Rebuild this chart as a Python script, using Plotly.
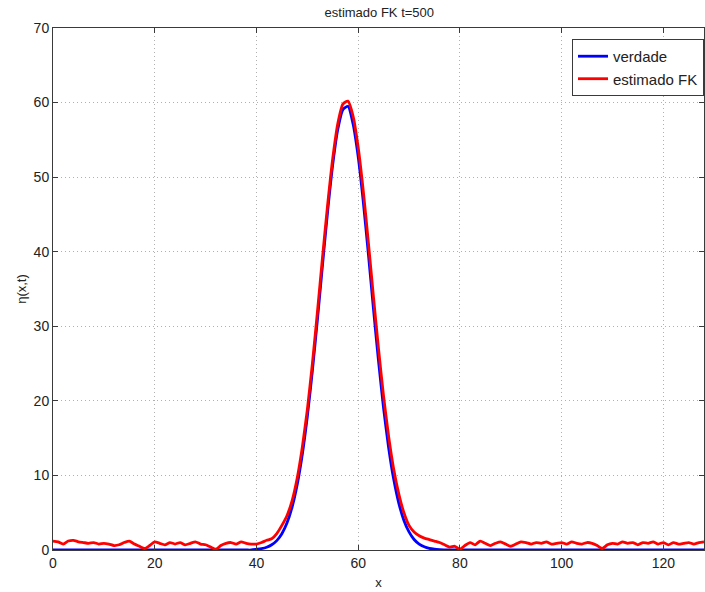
import plotly.graph_objects as go

# spatial grid points 0..128
x_vals = list(range(0, 129))

# true surface elevation ("verdade")
eta_true = [0.0] * 40 + [
    0.09, 0.19, 0.37, 0.70, 1.26, 2.18, 3.61, 5.73, 8.72, 12.74,      # 40-49
    17.87, 24.02, 30.97, 38.27, 45.42, 51.68, 56.41, 59.05, 59.50, 57.12,  # 50-59
    52.77, 46.77, 39.76, 32.40, 25.35, 19.01, 13.68, 9.44, 6.25, 3.97,  # 60-69
    2.42, 1.41, 0.79, 0.43, 0.22, 0.11, 0.05, 0.02,                     # 70-77
] + [0.0] * 51

# Kalman filter estimate ("estimado FK")
eta_kf = [
    1.2, 1.1, 0.8, 1.2, 1.3, 1.1, 1.0, 0.9, 1.0, 0.8,   # 0-9
    0.9, 0.8, 0.6, 0.7, 1.0, 1.2, 0.8, 0.5, 0.2, 0.6,   # 10-19
    1.1, 0.9, 0.7, 1.0, 0.8, 1.0, 0.7, 0.9, 1.1, 0.8,   # 20-29
    0.7, 0.4, 0.1, 0.6, 0.9, 1.0, 0.8, 1.1, 0.9, 0.8,   # 30-39
    0.8, 1.0, 1.3, 1.5, 2.2, 3.3, 4.6, 6.6, 9.6, 13.7,  # 40-49
    18.8, 25.0, 32.0, 39.3, 46.3, 52.5, 57.2, 59.8, 60.2, 58.2,  # 50-59
    54.0, 48.2, 41.3, 34.0, 27.0, 20.6, 15.2, 10.8, 7.5, 5.0,    # 60-69
    3.3, 2.4, 1.9, 1.6, 1.4, 1.2, 1.0, 0.7, 0.4, 0.5,   # 70-79
    0.1, 0.6, 1.0, 0.7, 1.2, 0.9, 0.6, 0.9, 1.1, 0.8,   # 80-89
    0.5, 0.8, 1.1, 1.0, 0.8, 1.0, 0.9, 1.1, 0.8, 0.9,   # 90-99
    1.0, 0.8, 1.1, 0.9, 0.8, 1.0, 0.9, 0.6, 0.2, 0.7,   # 100-109
    0.9, 0.8, 1.1, 0.9, 1.0, 0.7, 1.0, 0.9, 1.1, 0.8,   # 110-119
    1.0, 0.7, 1.0, 0.8, 0.9, 1.0, 0.8, 1.0, 1.1,        # 120-128
]

x_ticks = [0, 20, 40, 60, 80, 100, 120]
y_ticks = [0, 10, 20, 30, 40, 50, 60, 70]

font_family = "Liberation Sans, Arial, sans-serif"
axis_color = "#3a3a3a"
grid_color = "#b0b0b0"

fig = go.Figure()
fig.add_trace(go.Scatter(
    x=x_vals, y=eta_true, mode="lines", name="verdade",
    line=dict(color="#0000ff", width=2.8, shape="spline", smoothing=0.6),
))
fig.add_trace(go.Scatter(
    x=x_vals, y=eta_kf, mode="lines", name="estimado FK",
    line=dict(color="#ff0000", width=2.8, shape="spline", smoothing=0.6),
))

axis_common = dict(
    showline=True, linecolor=axis_color, linewidth=1, mirror="ticks",
    ticks="inside", ticklen=5, tickcolor=axis_color,
    showgrid=True, gridcolor=grid_color, griddash="1px,3px", gridwidth=1,
    zeroline=False,
    tickfont=dict(family=font_family, size=14, color="#222"),
)

fig.update_layout(
    width=705, height=592,
    margin=dict(l=53, r=1, t=28, b=42),
    paper_bgcolor="white", plot_bgcolor="white",
    title=dict(text="estimado FK t=500", x=0.538, xanchor="center",
               y=1 - 12 / 592, yanchor="middle", yref="container",
               font=dict(family=font_family, size=13, color="#222")),
    xaxis=dict(range=[0, 128], tickvals=x_ticks,
               title=dict(text="x", standoff=8,
                          font=dict(family=font_family, size=13, color="#222")),
               **axis_common),
    yaxis=dict(range=[0, 70], tickvals=y_ticks,
               title=dict(text="η(x,t)", standoff=4,
                          font=dict(family=font_family, size=13, color="#222")),
               **axis_common),
    legend=dict(x=1, xanchor="right", y=0.979, yanchor="top",
                bgcolor="white", bordercolor=axis_color, borderwidth=1,
                font=dict(family=font_family, size=15, color="#222"),
                tracegroupgap=0, itemwidth=30,
                entrywidth=132, entrywidthmode="pixels"),
    showlegend=True,
)

fig.write_html("out.html")
